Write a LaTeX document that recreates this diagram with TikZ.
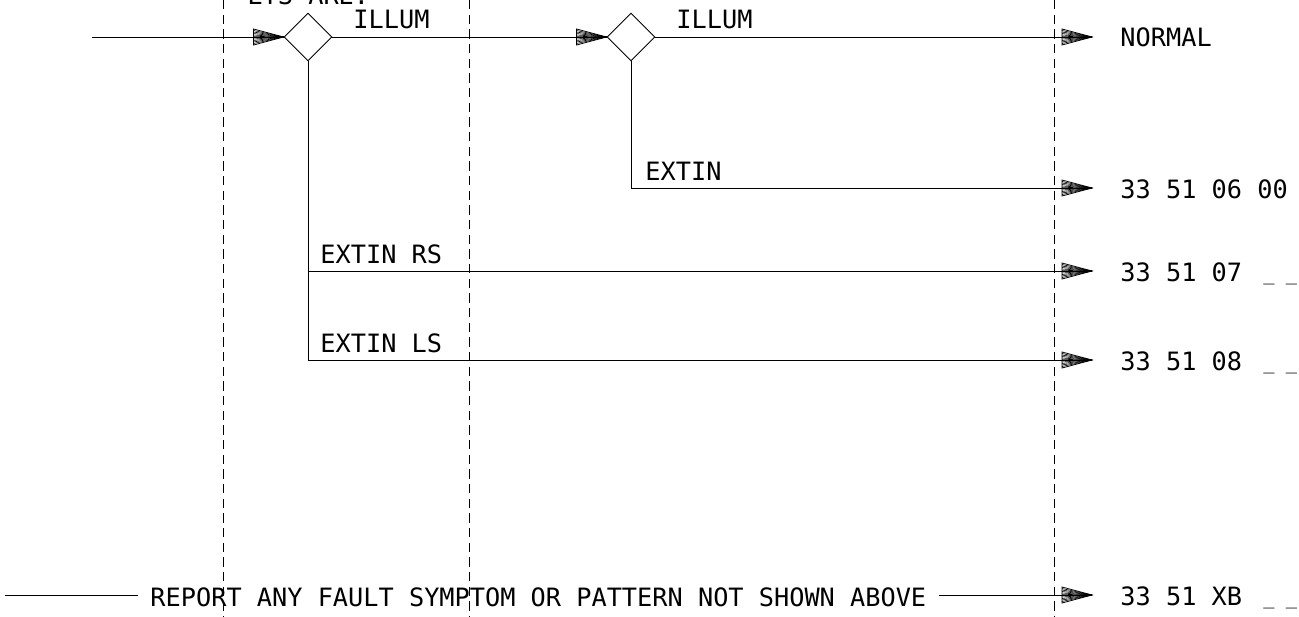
\documentclass[tikz,border=0pt]{standalone}
\usepackage{fontspec}
\setmonofont{DejaVu Sans Mono}
\usetikzlibrary{shapes.geometric}
\begin{document}
\begin{tikzpicture}[x=0.75pt,y=-0.75pt,line width=0.7pt,
  lbl/.style={inner sep=0pt,anchor=base west,font=\ttfamily\fontsize{18.95pt}{22pt}\selectfont},
  blank/.style={inner sep=0pt,anchor=base west,font=\ttfamily\fontsize{14pt}{16pt}\selectfont},
  dec/.style={diamond,draw,inner sep=0pt,minimum width=36pt,minimum height=36pt},
  guide/.style={dash pattern=on 7pt off 4pt,line width=0.5pt},
  hatchtip/.pic={
    \draw[line width=0.6pt] (0,0)--(-30,-8)--(-30,8)--cycle;
    \foreach \k in {-6.5,-5,-3.5,-2,-0.7,0.7,2,3.5,5,6.5}{\draw[line width=0.45pt] (0,0)--(-30,\k);}
  }]
\useasboundingbox (0,0) rectangle (1299,617);
% guide lines
\foreach \gx [count=\i] in {223,469,1054}{
  \coordinate (gt\i) at (\gx,0);
  \coordinate (gb\i) at (\gx,617);
  \draw[guide] (gt\i) -- (gb\i);
}
% clipped heading
\node[lbl] (head) at (247,5) {LTS ARE:};
% decisions
\node[dec] (d1) at (308,37) {};
\node[dec] (d2) at (631,37) {};
\coordinate (in) at (92,37);
\coordinate (e1) at (1092,37);
\coordinate (e2) at (1092,188);
\coordinate (e3) at (1092,271);
\coordinate (e4) at (1092,360);
\coordinate (e5) at (1092,595);
\coordinate (b1) at (308,271);
\coordinate (lin) at (5,595);
% connectors
\draw (in) -- (d1.west); \pic at (d1.west) {hatchtip};
\draw (d1.east) -- (d2.west); \pic at (d2.west) {hatchtip};
\draw (d2.east) -- (e1); \pic at (e1) {hatchtip};
\draw (d2.south) |- (e2); \pic at (e2) {hatchtip};
\draw (b1) -- (e3); \pic at (e3) {hatchtip};
\draw (d1.south) |- (e4); \pic at (e4) {hatchtip};
% labels
\node[lbl] (il1) at (353,29) {ILLUM};
\node[lbl] (il2) at (676,29) {ILLUM};
\node[lbl] (ex) at (645,180) {EXTIN};
\node[lbl] (exrs) at (320,263) {EXTIN RS};
\node[lbl] (exls) at (320,352) {EXTIN LS};
% results
\node[lbl] (r1) at (1120,47) {NORMAL};
\node[lbl] (r2) at (1120,198) {33 51 06 00};
\node[lbl] (r3) at (1120,281) {33 51 07};
\node[blank] (u3) at (1263,280) {\_ \_};
\node[lbl] (r4) at (1120,370) {33 51 08};
\node[blank] (u4) at (1263,369) {\_ \_};
\node[lbl] (r5) at (1120,605) {33 51 XB};
\node[blank] (u5) at (1263,604) {\_ \_};
% bottom
\node[lbl,inner xsep=9pt] (rep) at (138,606) {REPORT ANY FAULT SYMPTOM OR PATTERN NOT SHOWN ABOVE};
\draw (lin) -- (lin -| rep.west);
\draw (rep.east |- lin) -- (e5); \pic at (e5) {hatchtip};
\end{tikzpicture}
\end{document}
